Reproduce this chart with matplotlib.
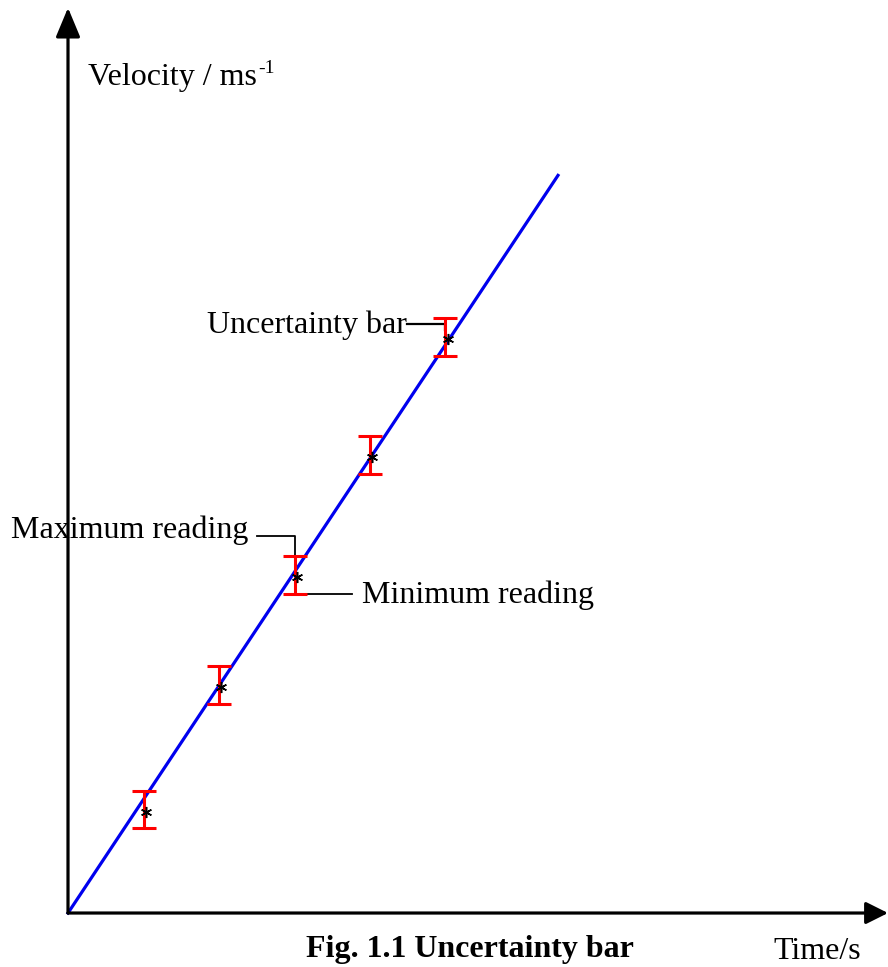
import matplotlib.pyplot as plt

plt.rcParams['font.family'] = ['Liberation Serif', 'DejaVu Serif']

# readings (time in s, velocity in m/s)
time = [1, 2, 3, 4, 5]
velocity = [1.37, 3.02, 4.48, 6.07, 7.63]
uncertainty = [0.25, 0.25, 0.25, 0.25, 0.25]

# best fit line
fit_t = [0, 6.49]
fit_v = [0, 9.77]

fig = plt.figure(figsize=(8.88, 9.67), dpi=100)
ax = fig.add_axes([0, 0, 1, 1])
ax.set_xlim(-0.9007, 10.861)
ax.set_ylim(-0.715, 12.093)
ax.axis('off')

# axes with arrows (drawn over the labels, as in the original)
ax.annotate('', xy=(0, 11.99), xytext=(0, 0), zorder=10,
            arrowprops=dict(arrowstyle='-|>,head_length=0.6,head_width=0.25',
                            mutation_scale=30, lw=2.3, color='black',
                            shrinkA=0, shrinkB=0))
ax.annotate('', xy=(10.861, 0), xytext=(0, 0), zorder=10,
            arrowprops=dict(arrowstyle='-|>,head_length=0.5,head_width=0.25',
                            mutation_scale=27, lw=2.3, color='black',
                            shrinkA=0, shrinkB=0))

# fit line
ax.plot(fit_t, fit_v, color='#0000ee', lw=2.3, zorder=2)

# uncertainty bars
ax.errorbar(time, velocity, yerr=uncertainty, fmt='none', ecolor='red',
            elinewidth=2.2, capsize=8.5, capthick=2.2, zorder=3)
ax.plot([t + 0.03 for t in time], [v - 0.03 for v in velocity],
        linestyle='none', marker=(6, 2, 0), markersize=8, color='black',
        markeredgewidth=1.1, zorder=4)

fs = 23

# labels
ylab = ax.text(0.265, 10.967, 'Velocity / ms', fontsize=fs,
               va='baseline', ha='left', zorder=1)
ax.annotate('-1', xy=(1, 1), xycoords=ylab, xytext=(1, 2),
            textcoords='offset points', fontsize=14, ha='left', va='top')
ax.text(9.92, -0.615, 'Time/s', fontsize=fs, ha='center', va='baseline')
ax.text(5.32, -0.583, 'Fig. 1.1 Uncertainty bar', fontsize=fs,
        fontweight='bold', ha='center', va='baseline')

# annotation leaders
ax.text(4.49, 7.68, 'Uncertainty bar', fontsize=fs, ha='right',
        va='baseline', zorder=1)
ax.plot([4.49, 4.99, 4.99], [7.80, 7.80, 7.72], color='black', lw=1.6)

ax.text(2.384, 4.967, 'Maximum reading', fontsize=fs, ha='right',
        va='baseline', zorder=1)
ax.plot([2.50, 3.00, 3.00], [4.99, 4.99, 4.73], color='black', lw=1.3)

ax.text(3.894, 4.106, 'Minimum reading', fontsize=fs, ha='left',
        va='baseline', zorder=1)
ax.plot([3.14, 3.76], [4.23, 4.23], color='black', lw=1.3)

fig.savefig('out.png', dpi=100)
